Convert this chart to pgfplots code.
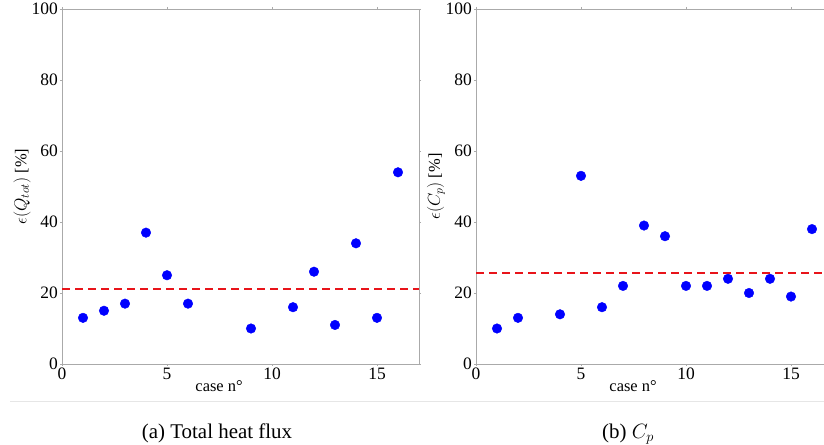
\documentclass[border=0pt]{standalone}
\usepackage{fontspec}
\setmainfont{Liberation Serif}
\usepackage{pgfplots}
\pgfplotsset{compat=1.18}
\definecolor{axgray}{HTML}{AAAAAA}
\definecolor{sepgray}{HTML}{E6E6E6}
\definecolor{dred}{HTML}{E8141A}
\pgfplotsset{
  myax/.style={
    scale only axis, width=357bp, height=355bp,
    anchor=south west,
    xmin=0, xmax=17, ymin=0, ymax=100,
    xtick={0,5,10,15}, ytick={0,20,40,60,80,100},
    axis line style={axgray, line width=0.9bp},
    tick style={axgray, line width=0.6bp},
    major tick length=2bp,
    tick align=outside,
    /pgf/number format/assume math mode=true,
    tick label style={font=\fontsize{17.5}{19}\selectfont},
    xticklabel style={inner sep=1.5bp},
    yticklabel style={inner sep=2bp},
    label style={font=\fontsize{16.5}{18}\selectfont},
    xlabel={case n°},
    x label style={at={(axis description cs:0.44,0)}, anchor=base, yshift=-28bp},
    y label style={at={(axis description cs:0,0.5)}, anchor=center, yshift=40bp},
    clip=false,
  },
  meanline/.style={draw=dred, line width=2bp, dash pattern=on 8bp off 5bp, no marks},
  pts/.style={only marks, mark=*, mark size=4.8bp, color=blue, mark options={fill=blue, draw=blue}},
}
\begin{document}
\begin{tikzpicture}
\begin{axis}[myax, at={(62bp,81bp)}, ylabel={$\epsilon(Q_{tot})$ [\%]}]
\addplot[pts] coordinates {
(1,13) (2,15) (3,17) (4,37) (5,25) (6,17) (9,10) (11,16) (12,26) (13,11) (14,34) (15,13) (16,54)
};
\addplot[meanline] coordinates {(0,21.1) (17,21.1)};
\end{axis}
\begin{axis}[myax, at={(476bp,81bp)}, ylabel={$\epsilon(C_p)$ [\%]}]
\addplot[pts] coordinates {
(1,10) (2,13) (4,14) (5,53) (6,16) (7,22) (8,39) (9,36) (10,22) (11,22) (12,24) (13,20) (14,24) (15,19) (16,38)
};
\addplot[meanline] coordinates {(0,25.6) (17,25.6)};
\end{axis}
\draw[sepgray, line width=1bp] (10bp,43bp) -- (824bp,43bp);
\node[font=\fontsize{21}{24}\selectfont, anchor=base] at (217bp,7bp) {(a) Total heat flux};
\node[font=\fontsize{21}{24}\selectfont, anchor=base] at (628bp,7bp) {(b) $C_p$};
\pgfresetboundingbox
\path[use as bounding box] (0,0) rectangle (824bp,445bp);
\end{tikzpicture}
\end{document}
